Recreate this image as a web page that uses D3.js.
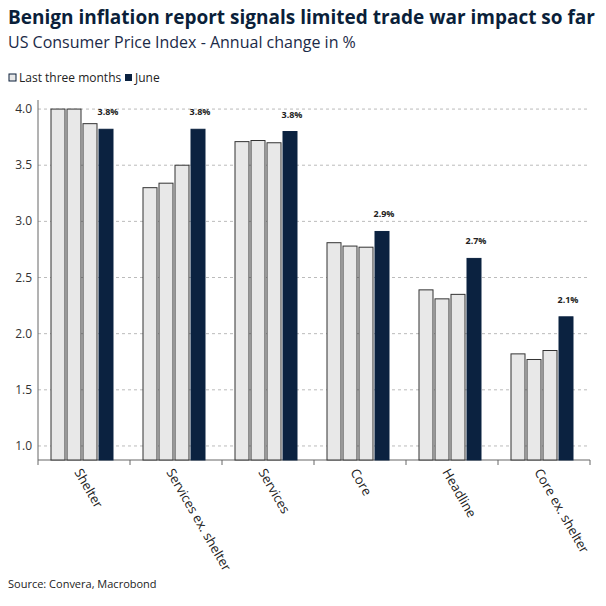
<!DOCTYPE html>
<html><head><meta charset="utf-8">
<script src="https://cdn.jsdelivr.net/npm/d3@7"></script>
<style>body{margin:0;background:#fff;font-family:"Open Sans",sans-serif}</style>
</head><body><svg id="c" width="606" height="606"></svg>
<script>
const categories=["Shelter","Services ex. shelter","Services","Core","Headline","Core ex. shelter"];
const month1=[4.0,3.30,3.71,2.81,2.39,1.82];
const month2=[4.0,3.34,3.72,2.78,2.31,1.77];
const month3=[3.87,3.50,3.70,2.77,2.35,1.85];
const june=[3.82,3.82,3.80,2.91,2.67,2.15];
const juneLabels=["3.8%","3.8%","3.8%","2.9%","2.7%","2.1%"];
const yTicks=[1.0,1.5,2.0,2.5,3.0,3.5,4.0];

const svg=d3.select("#c");
const m={l:38,r:590,t:100,b:460};
const x=d3.scaleBand().domain(categories).range([m.l,m.r]);
const y=d3.scaleLinear().domain([0.875,4.08]).range([m.b,m.b-(4.08-0.875)*112.3]);
svg.append("text").attr("x",8).attr("y",24).attr("font-size",19).attr("font-weight",700).attr("fill","#0b1f3a").text("Benign inflation report signals limited trade war impact so far");
svg.append("text").attr("x",8).attr("y",48).attr("font-size",16).attr("fill","#1b2a48").text("US Consumer Price Index - Annual change in %");
// legend
svg.append("rect").attr("x",9).attr("y",74).attr("width",7).attr("height",7).attr("fill","#e8e8e8").attr("stroke","#0b1f3a");
svg.append("text").attr("x",19).attr("y",82).attr("font-size",12).attr("fill","#222").text("Last three months");
svg.append("rect").attr("x",125).attr("y",74).attr("width",7).attr("height",7).attr("fill","#0b2240");
svg.append("text").attr("x",135).attr("y",82).attr("font-size",12).attr("fill","#222").text("June");
// grid
svg.selectAll(".g").data(yTicks).join("line").attr("x1",m.l).attr("x2",m.r).attr("y1",d=>y(d)).attr("y2",d=>y(d)).attr("stroke","#bbb").attr("stroke-dasharray","3,3");
svg.selectAll(".yt").data(yTicks).join("text").attr("x",32).attr("y",d=>y(d)+4).attr("text-anchor","end").attr("font-size",12).attr("fill","#333").text(d=>d.toFixed(1));
svg.append("line").attr("x1",m.l).attr("x2",m.l).attr("y1",m.t).attr("y2",m.b).attr("stroke","#666");
svg.append("line").attr("x1",m.l).attr("x2",m.r).attr("y1",m.b).attr("y2",m.b).attr("stroke","#666");
svg.selectAll(".xt").data(d3.range(7)).join("line").attr("x1",i=>m.l+i*x.bandwidth()).attr("x2",i=>m.l+i*x.bandwidth()).attr("y1",m.b).attr("y2",m.b+5).attr("stroke","#666");
const series=[month1,month2,month3,june];
const bw=14,gap=2;
categories.forEach((c,i)=>{
  const cx=x(c)+x.bandwidth()/2-2;
  series.forEach((s,j)=>{
    const bx=cx-2*bw-1.5*gap+j*(bw+gap);
    svg.append("rect").attr("x",bx).attr("y",y(s[i])).attr("width",bw).attr("height",y(0.875)-y(s[i]))
      .attr("fill",j==3?"#0b2240":"#e8e8e8").attr("stroke",j==3?"#0b2240":"#333").attr("stroke-width",1);
    if(j==3) svg.append("text").attr("x",bx+bw/2+2).attr("y",y(s[i])-14).attr("text-anchor","middle").attr("font-size",9).attr("font-weight",700).attr("fill","#222").text(juneLabels[i]);
  });
  svg.append("text").attr("transform",`translate(${cx-8},${m.b+12}) rotate(60)`).attr("font-size",13).attr("fill","#222").text(c);
});
svg.append("text").attr("x",8).attr("y",588).attr("font-size",11).attr("fill","#222").text("Source: Convera, Macrobond");
</script></body></html>
